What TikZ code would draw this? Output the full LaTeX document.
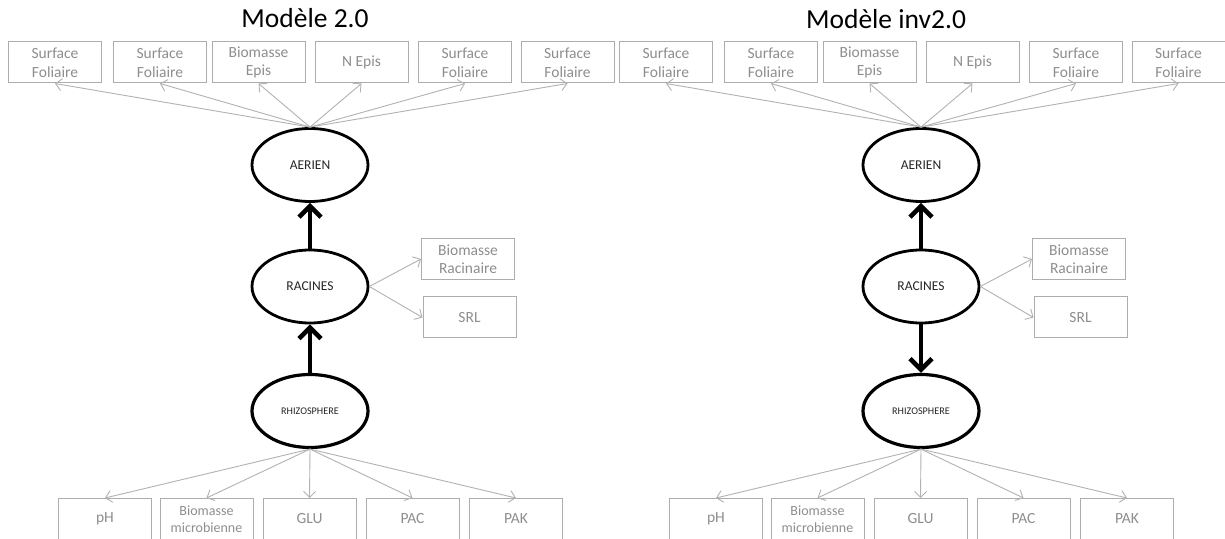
\documentclass[tikz,border=0pt]{standalone}
\usepackage{fontspec}
\setmainfont{Carlito}
\usetikzlibrary{shapes.geometric,arrows.meta}
\definecolor{boxgray}{HTML}{ADADAD}
\definecolor{txtgray}{HTML}{8E8E8E}
\definecolor{arrgray}{HTML}{B2B2B2}
\definecolor{ink}{HTML}{262626}
\newcommand{\Modele}[2]{%
 \begin{scope}[shift={(#2,0)}]
  \node[lbox] (#1t1) at (55,62.5) {Surface\\Foliaire};
  \node[lbox] (#1t2) at (160,62.5) {Surface\\Foliaire};
  \node[lbox] (#1t3) at (258.5,62.5) {Biomasse\\Epis};
  \node[lbox] (#1t4) at (361.5,62.5) {N Epis};
  \node[lbox] (#1t5) at (465,62.5) {Surface\\Foliaire};
  \node[lbox] (#1t6) at (567.5,62.5) {Surface\\Foliaire};
  \node[lv] (#1aer) at (310,165) {AERIEN};
  \node[lv] (#1rac) at (310,286.5) {RACINES};
  \node[lv, line width=3.2bp, font=\fontsize{10.2bp}{12bp}\selectfont] (#1rhi) at (310,411) {RHIZOSPHERE};
  \node[lbox] (#1br) at (468,259) {Biomasse\\Racinaire};
  \node[lbox] (#1srl) at (469.5,317.5) {SRL};
  \node[lbox] (#1b1) at (105,519) {pH};
  \node[lbox, font=\fontsize{14bp}{17bp}\selectfont] (#1b2) at (206.5,519) {Biomasse\\microbienne};
  \node[lbox] (#1b3) at (309.5,519) {GLU};
  \node[lbox] (#1b4) at (412.5,519) {PAC};
  \node[lbox] (#1b5) at (516,519) {PAK};
 \end{scope}
 \foreach \i in {1,...,6} {\draw[indarr] (#1aer.north) -- (#1t\i.south);}
 \foreach \i in {1,...,5} {\draw[indarr] (#1rhi.south) -- (#1b\i.north);}
 \draw[indarr] (#1rac.east) -- (#1br.west);
 \draw[indarr] (#1rac.east) -- (#1srl.west);
 \draw[strarr] (#1rac.north) -- (#1aer.south);
}
\begin{document}
\begin{tikzpicture}[x=1bp,y=-1bp,
  lbox/.style={draw=boxgray, line width=1bp, text=txtgray, minimum width=93bp,
    minimum height=41bp, inner sep=0pt, align=center,
    font=\fontsize{15.5bp}{18.5bp}\selectfont},
  lv/.style={ellipse, draw=black, line width=2.8bp, minimum width=116bp,
    minimum height=73bp, inner sep=0pt, text=ink,
    font=\fontsize{13.5bp}{16bp}\selectfont},
  indarr/.style={draw=arrgray, line width=0.9bp,
    -{Straight Barb[length=6bp,width=12bp]}},
  strarr/.style={draw=black, line width=4.6bp,
    -{Straight Barb[length=11bp,width=22bp]}},
  titre/.style={font=\fontsize{27.5bp}{33bp}\selectfont, inner sep=0pt, anchor=base}
]
\useasboundingbox[fill=white] (0,0) rectangle (1225,539);
\node[titre] (ti1) at (305,28) {Modèle 2.0};
\node[titre] (ti2) at (886,29) {Modèle inv2.0};
\Modele{L}{0}
\Modele{R}{611}
\draw[strarr] (Lrhi.north) -- (Lrac.south);
\draw[strarr] (Rrac.south) -- (Rrhi.north);
\end{tikzpicture}
\end{document}
